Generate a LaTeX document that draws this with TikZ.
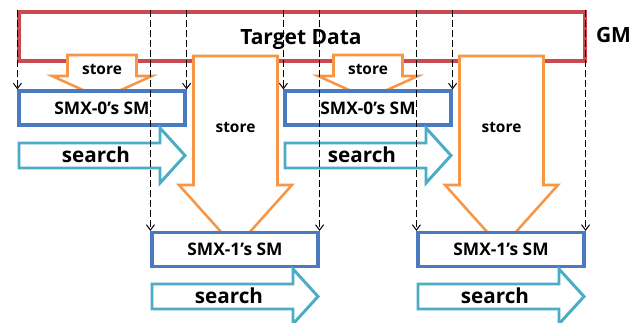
\documentclass[tikz,border=0pt]{standalone}
\usepackage{fontspec}
\setmainfont{Open Sans}
\usetikzlibrary{arrows.meta}
\definecolor{gmred}{HTML}{C94A50}
\definecolor{smblue}{HTML}{4A7BC0}
\definecolor{storeorange}{HTML}{F79646}
\definecolor{searchcyan}{HTML}{4BACC6}
\tikzset{
  gmbox/.style={draw=gmred, line width=2.3pt, minimum width=424.5pt, minimum height=36.75pt, inner sep=0pt},
  smbox/.style={draw=smblue, fill=white, line width=2.4pt, minimum width=124.5pt, minimum height=25.5pt, inner sep=0pt, font=\bfseries\fontsize{13}{15}\selectfont},
  storeline/.style={draw=storeorange, fill=white, line width=1.9pt, line join=miter},
  searchline/.style={draw=searchcyan, fill=white, line width=2.2pt, line join=miter},
  storetxt/.style={font=\bfseries\fontsize{11.6}{13}\selectfont, inner sep=0pt, anchor=base},
  searchtxt/.style={font=\bfseries\fontsize{15.5}{18}\selectfont, inner sep=0pt, anchor=base},
  feed/.style={draw=black, line width=0.75pt, dash pattern=on 5pt off 2.5pt, -{Straight Barb[length=4pt,width=6pt]}},
  small store/.pic={
    \draw[storeline] (-34.5,-21) -- (34.5,-21) -- (34.5,0) -- (50,0) -- (0,22.6) -- (-50,0) -- (-34.5,0) -- cycle;
    \node[storetxt] at (0,-1) {store};
  },
  big store/.pic={
    \draw[storeline] (-42,-129) -- (42,-129) -- (42,0) -- (56.5,0) -- (0,63) -- (-56.5,0) -- (-42,0) -- cycle;
    \node[storetxt] at (0,-52) {store};
  },
  search arrow/.pic={
    \draw[searchline] (0,-12.5) -- (141,-12.5) -- (141,-27.5) -- (166,0) -- (141,27.5) -- (141,12.5) -- (0,12.5) -- cycle;
    \node[searchtxt] at (77,7.5) {search};
  }
}
\begin{document}
\begin{tikzpicture}[x=0.75pt,y=-0.75pt]
\useasboundingbox (0,0) rectangle (642,323);

% global memory
\node[gmbox] (gm) at (302,36.5) {};
\node[font=\bfseries\fontsize{15.75}{18}\selectfont, inner sep=0pt, anchor=base] (target) at (301,45) {Target Data};
\node[font=\bfseries\fontsize{15.75}{18}\selectfont, inner sep=0pt, anchor=base] (gmlabel) at (613.5,43) {GM};

% store arrows into shared memory
\pic at (102,76) {small store};
\pic at (368,76) {small store};
\pic at (235.5,185) {big store};
\pic at (501.5,185) {big store};

% shared memories
\node[smbox] (smx0a) at (102,108) {SMX-0’s SM};
\node[smbox] (smx0b) at (368,108) {SMX-0’s SM};
\node[smbox] (smx1a) at (235,249.5) {SMX-1’s SM};
\node[smbox] (smx1b) at (501,249.5) {SMX-1’s SM};

% search arrows
\pic at (19,155.5) {search arrow};
\pic at (285,155.5) {search arrow};
\pic at (152,296.5) {search arrow};
\pic at (418,296.5) {search arrow};

% dashed feeds from global memory
\foreach \b/\c in {smx0a/north west, smx0a/north east, smx1a/north west, smx1a/north east,
                   smx0b/north west, smx0b/north east, smx1b/north west, smx1b/north east}
  \draw[feed] (gm.north -| \b.\c) -- (\b.\c);
\end{tikzpicture}
\end{document}
